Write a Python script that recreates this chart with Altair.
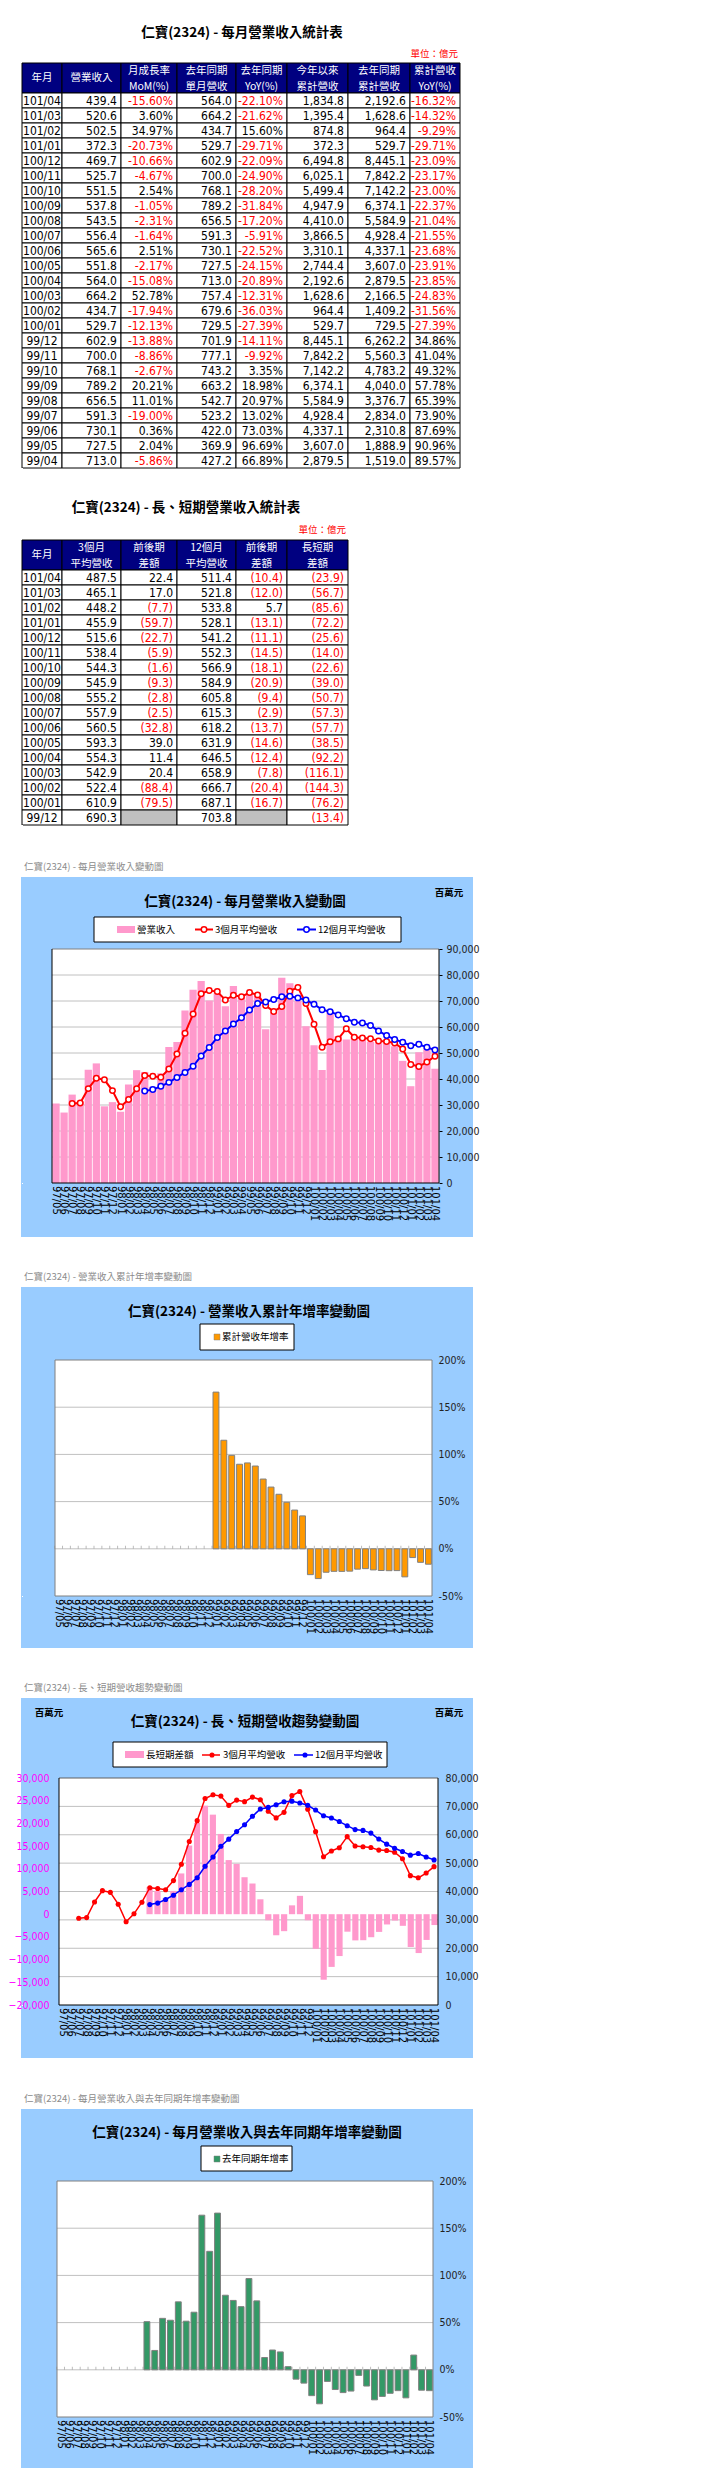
import altair as alt
import pandas as pd

# ================= TABLE 1 DATA (億元) =================
T1_MONTHS = ["101/04", "101/03", "101/02", "101/01", "100/12", "100/11", "100/10", "100/09",
             "100/08", "100/07", "100/06", "100/05", "100/04", "100/03", "100/02", "100/01",
             "99/12", "99/11", "99/10", "99/09", "99/08", "99/07", "99/06", "99/05", "99/04"]
T1_REV = [439.4, 520.6, 502.5, 372.3, 469.7, 525.7, 551.5, 537.8, 543.5, 556.4, 565.6, 551.8,
          564.0, 664.2, 434.7, 529.7, 602.9, 700.0, 768.1, 789.2, 656.5, 591.3, 730.1, 727.5, 713.0]
T1_MOM = [-15.60, 3.60, 34.97, -20.73, -10.66, -4.67, 2.54, -1.05, -2.31, -1.64, 2.51, -2.17,
          -15.08, 52.78, -17.94, -12.13, -13.88, -8.86, -2.67, 20.21, 11.01, -19.00, 0.36, 2.04, -5.86]
T1_PREV = [564.0, 664.2, 434.7, 529.7, 602.9, 700.0, 768.1, 789.2, 656.5, 591.3, 730.1, 727.5,
           713.0, 757.4, 679.6, 729.5, 701.9, 777.1, 743.2, 663.2, 542.7, 523.2, 422.0, 369.9, 427.2]
T1_YOY = [-22.10, -21.62, 15.60, -29.71, -22.09, -24.90, -28.20, -31.84, -17.20, -5.91, -22.52, -24.15,
          -20.89, -12.31, -36.03, -27.39, -14.11, -9.92, 3.35, 18.98, 20.97, 13.02, 73.03, 96.69, 66.89]
T1_CUM = [1834.8, 1395.4, 874.8, 372.3, 6494.8, 6025.1, 5499.4, 4947.9, 4410.0, 3866.5, 3310.1, 2744.4,
          2192.6, 1628.6, 964.4, 529.7, 8445.1, 7842.2, 7142.2, 6374.1, 5584.9, 4928.4, 4337.1, 3607.0, 2879.5]
T1_CUM_PREV = [2192.6, 1628.6, 964.4, 529.7, 8445.1, 7842.2, 7142.2, 6374.1, 5584.9, 4928.4, 4337.1, 3607.0,
               2879.5, 2166.5, 1409.2, 729.5, 6262.2, 5560.3, 4783.2, 4040.0, 3376.7, 2834.0, 2310.8, 1888.9, 1519.0]
T1_CUM_YOY = [-16.32, -14.32, -9.29, -29.71, -23.09, -23.17, -23.00, -22.37, -21.04, -21.55, -23.68, -23.91,
              -23.85, -24.83, -31.56, -27.39, 34.86, 41.04, 49.32, 57.78, 65.39, 73.90, 87.69, 90.96, 89.57]
T1_HEADERS = ["年月", "營業收入", "月成長率\nMoM(%)", "去年同期\n單月營收", "去年同期\nYoY(%)",
              "今年以來\n累計營收", "去年同期\n累計營收", "累計營收\nYoY(%)"]

# ================= TABLE 2 DATA (億元) =================
T2_MONTHS = ["101/04", "101/03", "101/02", "101/01", "100/12", "100/11", "100/10", "100/09",
             "100/08", "100/07", "100/06", "100/05", "100/04", "100/03", "100/02", "100/01", "99/12"]
T2_AVG3 = [487.5, 465.1, 448.2, 455.9, 515.6, 538.4, 544.3, 545.9, 555.2, 557.9, 560.5, 593.3,
           554.3, 542.9, 522.4, 610.9, 690.3]
T2_AVG3_DIFF = [22.4, 17.0, -7.7, -59.7, -22.7, -5.9, -1.6, -9.3, -2.8, -2.5, -32.8, 39.0,
                11.4, 20.4, -88.4, -79.5, None]
T2_AVG12 = [511.4, 521.8, 533.8, 528.1, 541.2, 552.3, 566.9, 584.9, 605.8, 615.3, 618.2, 631.9,
            646.5, 658.9, 666.7, 687.1, 703.8]
T2_AVG12_DIFF = [-10.4, -12.0, 5.7, -13.1, -11.1, -14.5, -18.1, -20.9, -9.4, -2.9, -13.7, -14.6,
                 -12.4, -7.8, -20.4, -16.7, None]
T2_GAP = [-23.9, -56.7, -85.6, -72.2, -25.6, -14.0, -22.6, -39.0, -50.7, -57.3, -57.7, -38.5,
          -92.2, -116.1, -144.3, -76.2, -13.4]
T2_HEADERS = ["年月", "3個月\n平均營收", "前後期\n差額", "12個月\n平均營收", "前後期\n差額", "長短期\n差額"]

# ================= CHART DATA (百萬元 / %) =================
MONTHS = ["97/05", "97/06", "97/07", "97/08", "97/09", "97/10", "97/11", "97/12",
          "98/01", "98/02", "98/03", "98/04", "98/05", "98/06", "98/07", "98/08", "98/09", "98/10", "98/11", "98/12",
          "99/01", "99/02", "99/03", "99/04", "99/05", "99/06", "99/07", "99/08", "99/09", "99/10", "99/11", "99/12",
          "100/01", "100/02", "100/03", "100/04", "100/05", "100/06", "100/07", "100/08", "100/09", "100/10", "100/11", "100/12",
          "101/01", "101/02", "101/03", "101/04"]
REVENUE = [30600, 27100, 34000, 31300, 43600, 46000, 29500, 31100, 27400, 37900,
           43400, 42720, 36990, 42200, 52320, 54270, 66320, 74320, 77710, 70190,
           72950, 67960, 75740, 71300, 72750, 73010, 59130, 65650, 78920, 76810,
           70000, 60290, 52970, 43470, 66420, 56400, 55180, 56560, 55640, 54350,
           53780, 55150, 52570, 46970, 37230, 50250, 52060, 43940]
AVG3 = [None, None, 30567, 30800, 36300, 40300, 39700, 35533, 29333, 32133,
        36233, 41340, 41037, 40637, 43837, 49597, 57637, 64970, 72783, 74073,
        73617, 70367, 72217, 71667, 73263, 72353, 68297, 65930, 67900, 73793,
        75243, 69030, 61090, 52240, 54290, 55430, 59330, 56050, 55790, 55520,
        54590, 54430, 53840, 51560, 45590, 44820, 46510, 48750]
AVG12 = [None, None, None, None, None, None, None, None, None, None, None,
         35385, 35918, 37176, 38703, 40617, 42510, 44870, 48888, 52145, 55941,
         58446, 61141, 63523, 66503, 69070, 69638, 70586, 71636, 71843, 71201,
         70380, 68710, 66670, 65890, 64650, 63190, 61820, 61530, 60580, 58490,
         56690, 55230, 54120, 52810, 53380, 52180, 51140]
GAP = [None, None, None, None, None, None, None, None, None, None, None,
       5955, 5119, 3461, 5134, 8980, 15127, 20100, 23895, 21928, 17676,
       11921, 11076, 8144, 6760, 3283, -1341, -4656, -3736, 1950, 4042,
       -1340, -7620, -14430, -11610, -9220, -3850, -5770, -5730, -5070, -3900,
       -2260, -1400, -2560, -7220, -8560, -5670, -2390]
CUM_YOY = [None] * 20 + [166, 115, 99, 89.57, 90.96, 87.69, 73.90, 65.39, 57.78, 49.32,
                         41.04, 34.86, -27.39, -31.56, -24.83, -23.85, -23.91, -23.68, -21.55, -21.04,
                         -22.37, -23.00, -23.17, -23.09, -29.71, -9.29, -14.32, -16.32]
MONTH_YOY = [None] * 11 + [51, 20.5, 54.5, 52.5, 72, 51.5, 61, 163.8, 125.5,
                           166, 79, 73.5, 66.89, 96.69, 73.03, 13.02, 20.97, 18.98, 3.35,
                           -9.92, -14.11, -27.39, -36.03, -12.31, -20.89, -24.15, -22.52, -5.91, -17.20,
                           -31.84, -28.20, -24.90, -22.09, -29.71, 15.60, -21.62, -22.10]

Y1_TICKS = [0, 10000, 20000, 30000, 40000, 50000, 60000, 70000, 80000, 90000]
Y3L_TICKS = [-20000, -15000, -10000, -5000, 0, 5000, 10000, 15000, 20000, 25000, 30000]
Y3R_TICKS = [0, 10000, 20000, 30000, 40000, 50000, 60000, 70000, 80000]
PCT_TICKS = [-50, 0, 50, 100, 150, 200]

# ================= STYLE =================
CJK = "Noto Sans CJK TC"
NARROW = "'Liberation Sans Narrow', 'DejaVu Sans Condensed', 'Liberation Sans', sans-serif"
LBLF = "DejaVu Sans"
PANEL = "#99CCFF"
PINK = "#FF99CC"
RED = "#FF0000"
BLUE = "#0000FF"
ORANGE = "#FF9900"
GREEN = "#339966"
GRIDC = "#C0C0C0"
NAVY = "#000080"
CAPC = "#8C8C8C"
ONE = pd.DataFrame({"k": [0]})
OX = 16  # page x of every sub-view's left edge
COMMA = "format(datum.value, ',')"


class Page:
    """Decoration helpers taking page coordinates for a sub-view whose origin is (OX, oy)."""

    def __init__(self, oy):
        self.oy = oy

    def X(self, x):
        return x - OX

    def Y(self, y):
        return y - self.oy

    def txt(self, s, x, y, size=9.5, color="black", weight="normal", align="left", font=CJK):
        return alt.Chart(ONE).mark_text(text=s, align=align, baseline="middle", fontSize=size,
                                        color=color, fontWeight=weight, font=font).encode(
            x=alt.value(self.X(x)), y=alt.value(self.Y(y)))

    def rect(self, x1, y1, x2, y2, **kw):
        return alt.Chart(ONE).mark_rect(**kw).encode(
            x=alt.value(self.X(x1)), x2=alt.value(self.X(x2)),
            y=alt.value(self.Y(y1)), y2=alt.value(self.Y(y2)))

    def seg(self, x1, y1, x2, y2, color, sw):
        return alt.Chart(ONE).mark_rule(color=color, strokeWidth=sw).encode(
            x=alt.value(self.X(x1)), x2=alt.value(self.X(x2)),
            y=alt.value(self.Y(y1)), y2=alt.value(self.Y(y2)))

    def dot(self, x, y, size, fill, stroke=None, sw=1.5):
        kw = dict(shape="circle", filled=True, fill=fill, size=size, opacity=1)
        if stroke:
            kw.update(stroke=stroke, strokeWidth=sw)
        return alt.Chart(ONE).mark_point(**kw).encode(x=alt.value(self.X(x)), y=alt.value(self.Y(y)))

    def edges(self, plot, top, right, bottom, left):
        pl, pt, pr, pb = plot
        return [self.seg(pl, pt, pr, pt, top, 1), self.seg(pr, pt, pr, pb, right, 1),
                self.seg(pl, pb, pr, pb, bottom, 1), self.seg(pl, pt, pl, pb, left, 1)]


def gap(top, bottom, panel=None, anchor=False):
    """Vertical spacer; optionally draws the blue chart panel that lies behind the next chart."""
    P = Page(top)
    x0 = -8 if anchor else 0
    layers = [alt.Chart(ONE).mark_rect(color="white").encode(
        x=alt.value(x0), x2=alt.value(x0 + 1), y=alt.value(0), y2=alt.value(1))]
    if panel:
        layers.append(P.rect(panel[0], panel[1], panel[2], panel[3], fill=PANEL))
    return alt.layer(*layers).properties(width=1, height=bottom - top)


# ================= TABLES =================
def table_chart(headers, edges, rows, title, oy, tpos, upos):
    P = Page(oy)
    W = edges[-1]
    NR = len(rows) + 2
    H = NR * 15
    cells, heads, tc, tr = [], [], [], []
    for c, h in enumerate(headers):
        cells.append(dict(x0=edges[c], x1=edges[c + 1], y0=0, y1=2, f=NAVY))
        heads.append(dict(tx=(edges[c] + edges[c + 1]) / 2, ty=0.55 if "\n" in h else 1.0, t=h))
    for i, row in enumerate(rows):
        for c, (t, col, fill) in enumerate(row):
            cells.append(dict(x0=edges[c], x1=edges[c + 1], y0=2 + i, y1=3 + i, f=fill))
            if c == 0:
                tc.append(dict(tx=(edges[0] + edges[1]) / 2, ty=2.5 + i, t=t, col=col))
            else:
                tr.append(dict(tx=edges[c + 1] - 4, ty=2.5 + i, t=t, col=col))
    xs = alt.Scale(domain=[0, W], nice=False, zero=False)
    ys = alt.Scale(domain=[0, NR], nice=False, zero=False, reverse=True)
    r = alt.Chart(pd.DataFrame(cells)).mark_rect(stroke="black", strokeWidth=1).encode(
        x=alt.X("x0:Q", scale=xs, axis=None), x2="x1:Q",
        y=alt.Y("y0:Q", scale=ys, axis=None), y2="y1:Q",
        fill=alt.Fill("f:N", scale=None))
    hd = alt.Chart(pd.DataFrame(heads)).mark_text(
        align="center", baseline="middle", lineBreak="\n", lineHeight=16, font=CJK,
        fontSize=10.5, color="white").encode(
        x=alt.X("tx:Q", scale=xs, axis=None), y=alt.Y("ty:Q", scale=ys, axis=None), text="t:N")
    c1 = alt.Chart(pd.DataFrame(tc)).mark_text(
        align="center", baseline="middle", font=NARROW, fontSize=12).encode(
        x=alt.X("tx:Q", scale=xs, axis=None), y=alt.Y("ty:Q", scale=ys, axis=None), text="t:N",
        color=alt.Color("col:N", scale=None))
    c2 = alt.Chart(pd.DataFrame(tr)).mark_text(
        align="right", baseline="middle", font=NARROW, fontSize=12).encode(
        x=alt.X("tx:Q", scale=xs, axis=None), y=alt.Y("ty:Q", scale=ys, axis=None), text="t:N",
        color=alt.Color("col:N", scale=None))
    t = P.txt(title, tpos[0], tpos[1], size=13.5, weight="bold", align="center")
    u = P.txt("單位：億元", upos[0], upos[1], size=9.5, color=RED, align="right")
    return alt.layer(r, hd, c1, c2, t, u).properties(width=W, height=H)


def num(v):
    return f"{v:,.1f}"


def pct(v):
    return f"{v:.2f}%"


def par(v):
    return f"({abs(v):.1f})" if v < 0 else f"{v:.1f}"


def neg(v):
    return RED if v < 0 else "black"


rows1 = []
for i in range(len(T1_MONTHS)):
    rows1.append([
        (T1_MONTHS[i], "black", "white"),
        (num(T1_REV[i]), "black", "white"),
        (pct(T1_MOM[i]), neg(T1_MOM[i]), "white"),
        (num(T1_PREV[i]), "black", "white"),
        (pct(T1_YOY[i]), neg(T1_YOY[i]), "white"),
        (num(T1_CUM[i]), "black", "white"),
        (num(T1_CUM_PREV[i]), "black", "white"),
        (pct(T1_CUM_YOY[i]), neg(T1_CUM_YOY[i]), "white"),
    ])

rows2 = []
for i in range(len(T2_MONTHS)):
    d3, d12 = T2_AVG3_DIFF[i], T2_AVG12_DIFF[i]
    rows2.append([
        (T2_MONTHS[i], "black", "white"),
        (num(T2_AVG3[i]), "black", "white"),
        (par(d3) if d3 is not None else "", neg(d3) if d3 is not None else "black",
         "white" if d3 is not None else "#C0C0C0"),
        (num(T2_AVG12[i]), "black", "white"),
        (par(d12) if d12 is not None else "", neg(d12) if d12 is not None else "black",
         "white" if d12 is not None else "#C0C0C0"),
        (par(T2_GAP[i]), neg(T2_GAP[i]), "white"),
    ])

EDGES1 = [0, 40, 99, 155, 214, 265, 326, 388, 438]
EDGES2 = [0, 40, 99, 155, 214, 265, 326]

T1 = table_chart(T1_HEADERS, EDGES1, rows1, "仁寶(2324) - 每月營業收入統計表", 63, (236, 33), (452, 54))
T2 = table_chart(T2_HEADERS, EDGES2, rows2, "仁寶(2324) - 長、短期營業收入統計表", 540, (180, 508), (340, 530))

# ================= CHARTS =================
df = pd.DataFrame({"m": MONTHS, "rev": REVENUE, "a3": AVG3, "a12": AVG12, "gap": GAP,
                   "cy": CUM_YOY, "my": MONTH_YOY})
SER_SCALE = alt.Scale(domain=["a3", "a12"], range=[RED, BLUE])


def band(plot, pi, po):
    pl, pt, pr, pb = plot
    return alt.Scale(domain=MONTHS, paddingInner=pi, paddingOuter=po, range=[pl - OX, pr - OX])


def plot_bg(P, plot):
    return P.rect(plot[0], plot[1], plot[2], plot[3], fill="white")


def month_labels(xs, H):
    """Vertical month category labels under the plot (read top to bottom)."""
    return alt.Chart(df).mark_text(angle=90, align="left", baseline="middle", font=LBLF,
                                   fontSize=10, color="black").encode(
        x=alt.X("m:N", scale=xs, axis=None), y=alt.value(H + 3), text="m:N")


# ---------- chart 1 ----------
PL1 = (46, 949, 433, 1183)
OUT1 = (15, 877, 467, 1237)
P1 = Page(PL1[1])
W1, H1 = PL1[2] - OX, PL1[3] - PL1[1]
xs1 = band(PL1, 0.1, 0.05)
ys1 = alt.Scale(domain=[0, 90000], nice=False, zero=False)
grid1 = alt.Chart(pd.DataFrame({"v": Y1_TICKS[1:-1]})).mark_rule(color=GRIDC).encode(
    y=alt.Y("v:Q", scale=ys1, axis=None), x=alt.value(P1.X(PL1[0])), x2=alt.value(P1.X(PL1[2])))
bars1 = alt.Chart(df).mark_bar(color=PINK).encode(
    x=alt.X("m:N", scale=xs1, axis=None),
    y=alt.Y("rev:Q", scale=ys1, axis=alt.Axis(
        orient="right", title=None, values=Y1_TICKS, labelExpr=COMMA, labelFont=NARROW, labelFontSize=10.5,
        labelColor="#222", tickSize=3, tickColor="black", domain=False, grid=False,
        labelPadding=4, labelFlush=False)))
lines1 = alt.Chart(df).transform_fold(["a3", "a12"], as_=["s", "v"]).mark_line(strokeWidth=2).encode(
    x=alt.X("m:N", scale=xs1, axis=None), y=alt.Y("v:Q", scale=ys1, axis=None),
    color=alt.Color("s:N", scale=SER_SCALE, legend=None))
pts1 = alt.Chart(df).transform_fold(["a3", "a12"], as_=["s", "v"]).mark_point(
    shape="circle", filled=True, fill="white", size=30, strokeWidth=1.5, opacity=1).encode(
    x=alt.X("m:N", scale=xs1, axis=None), y=alt.Y("v:Q", scale=ys1, axis=None),
    stroke=alt.Stroke("s:N", scale=SER_SCALE, legend=None))
LY1 = 929.5
C1 = alt.layer(
    plot_bg(P1, PL1),
    grid1, bars1, lines1, pts1,
    *P1.edges(PL1, "#808080", "black", "black", "black"),
    month_labels(xs1, H1),
    P1.txt("仁寶(2324) - 每月營業收入變動圖", 18, 867, size=9.5, color=CAPC),
    P1.txt("仁寶(2324) - 每月營業收入變動圖", 239, 902, size=13.5, weight="bold", align="center"),
    P1.txt("百萬元", 443, 893, size=9.5, weight="bold", align="center"),
    P1.rect(88, 917, 395, 942, fill="white", stroke="black", strokeWidth=1),
    P1.rect(111, 926, 129, 933, fill=PINK),
    P1.txt("營業收入", 131, LY1),
    P1.seg(189, LY1, 207, LY1, RED, 2), P1.dot(198, LY1, 30, "white", RED),
    P1.txt("3個月平均營收", 209, LY1),
    P1.seg(291, LY1, 310, LY1, BLUE, 2), P1.dot(300.5, LY1, 30, "white", BLUE),
    P1.txt("12個月平均營收", 312, LY1),
).resolve_scale(x="independent", y="independent").properties(width=W1, height=H1)


# ---------- percentage bar charts (2 & 4) ----------
def pct_chart(field, color, plot, cap, cap_xy, title, tpos, legtxt, leg, sq, ltxt_xy):
    P = Page(plot[1])
    W, H = plot[2] - OX, plot[3] - plot[1]
    pw = plot[2] - plot[0]
    pi, po = 0.25, 0.08
    xs = band(plot, pi, po)
    ys = alt.Scale(domain=[-50, 200], nice=False, zero=False)
    step = pw / (len(MONTHS) - pi + 2 * po)
    grid = alt.Chart(pd.DataFrame({"v": PCT_TICKS[1:-1]})).mark_rule(color=GRIDC).encode(
        y=alt.Y("v:Q", scale=ys, axis=None), x=alt.value(P.X(plot[0])), x2=alt.value(P.X(plot[2])))
    ticks = alt.Chart(df).transform_calculate(z="0").mark_tick(
        orient="vertical", size=3, thickness=1, color="#A0A0A0", xOffset=-step / 2, yOffset=-1.5).encode(
        x=alt.X("m:N", scale=xs, axis=None), y=alt.Y("z:Q", scale=ys, axis=None))
    bars = alt.Chart(df).mark_bar(color=color, stroke="#808080", strokeWidth=1).encode(
        x=alt.X("m:N", scale=xs, axis=None),
        y=alt.Y(f"{field}:Q", scale=ys, axis=alt.Axis(
            orient="right", title=None, values=PCT_TICKS, labelExpr="datum.value + '%'",
            labelFont=NARROW, labelFontSize=10.5, labelColor="#222", ticks=False, domain=False,
            grid=False, labelPadding=6, labelFlush=False)))
    return alt.layer(
        plot_bg(P, plot),
        grid, ticks, bars,
        *P.edges(plot, "#808080", "#808080", "#808080", "#808080"),
        month_labels(xs, H),
        P.txt(cap, cap_xy[0], cap_xy[1], size=9.5, color=CAPC),
        P.txt(title, tpos[0], tpos[1], size=13.5, weight="bold", align="center"),
        P.rect(leg[0], leg[1], leg[2], leg[3], fill="white", stroke="black", strokeWidth=1),
        P.rect(sq[0], sq[1], sq[2], sq[3], fill=color, stroke="#808080", strokeWidth=0.5),
        P.txt(legtxt, ltxt_xy[0], ltxt_xy[1]),
    ).resolve_scale(x="independent", y="independent").properties(width=W, height=H)


PL2 = (49, 1360, 426, 1596)
OUT2 = (15, 1287, 467, 1648)
C2 = pct_chart("cy", ORANGE, PL2,
               "仁寶(2324) -  營業收入累計年增率變動圖", (18, 1277),
               "仁寶(2324) -  營業收入累計年增率變動圖", (243, 1312),
               "累計營收年增率", (194, 1324, 288, 1350), (208, 1334, 214, 1340), (216, 1337))

PL4 = (51, 2181, 427, 2417)
OUT4 = (15, 2109, 467, 2468)
C4 = pct_chart("my", GREEN, PL4,
               "仁寶(2324) -  每月營業收入與去年同期年增率變動圖", (18, 2099),
               "仁寶(2324) -  每月營業收入與去年同期年增率變動圖", (241, 2133),
               "去年同期年增率", (195, 2146, 286, 2171), (208, 2156, 214, 2162), (216, 2158.5))

# ---------- chart 3 ----------
PL3 = (53, 1778, 432, 2005)
OUT3 = (15, 1698, 467, 2058)
P3 = Page(PL3[1])
W3, H3 = PL3[2] - OX, PL3[3] - PL3[1]
xs3 = band(PL3, 0.22, 0.05)
ys3L = alt.Scale(domain=[-20000, 30000], nice=False, zero=False)
ys3R = alt.Scale(domain=[0, 80000], nice=False, zero=False)
grid3 = alt.Chart(pd.DataFrame({"v": Y3R_TICKS[1:-1]})).mark_rule(color=GRIDC).encode(
    y=alt.Y("v:Q", scale=ys3R, axis=None), x=alt.value(P3.X(PL3[0])), x2=alt.value(P3.X(PL3[2])))
bars3 = alt.Chart(df).mark_bar(color=PINK).encode(
    x=alt.X("m:N", scale=xs3, axis=None),
    y=alt.Y("gap:Q", scale=ys3L, axis=alt.Axis(
        orient="left", offset=-(PL3[0] - OX), title=None, values=Y3L_TICKS, labelExpr=COMMA,
        labelFont=NARROW, labelFontSize=10.5, labelColor="#FF00FF", ticks=False, domain=False,
        grid=False, labelPadding=10, labelFlush=False)))
lines3 = alt.Chart(df).transform_fold(["a3", "a12"], as_=["s", "v"]).mark_line(strokeWidth=1.5).encode(
    x=alt.X("m:N", scale=xs3, axis=None),
    y=alt.Y("v:Q", scale=ys3R, axis=alt.Axis(
        orient="right", title=None, values=Y3R_TICKS, labelExpr=COMMA, labelFont=NARROW, labelFontSize=10.5,
        labelColor="#222", ticks=False, domain=False, grid=False, labelPadding=7,
        labelFlush=False)),
    color=alt.Color("s:N", scale=SER_SCALE, legend=None))
pts3 = alt.Chart(df).transform_fold(["a3", "a12"], as_=["s", "v"]).mark_circle(size=26, opacity=1).encode(
    x=alt.X("m:N", scale=xs3, axis=None), y=alt.Y("v:Q", scale=ys3R, axis=None),
    color=alt.Color("s:N", scale=SER_SCALE, legend=None))
LY3 = 1755
C3 = alt.layer(
    plot_bg(P3, PL3),
    grid3, bars3, lines3, pts3,
    *P3.edges(PL3, "#606060", "black", "black", "black"),
    month_labels(xs3, H3),
    P3.txt("仁寶(2324) -  長、短期營收趨勢變動圖", 18, 1688, size=9.5, color=CAPC),
    P3.txt("百萬元", 43, 1713, size=9.5, weight="bold", align="center"),
    P3.txt("百萬元", 443, 1713, size=9.5, weight="bold", align="center"),
    P3.txt("仁寶(2324) -  長、短期營收趨勢變動圖", 239, 1722, size=13.5, weight="bold", align="center"),
    P3.rect(107, 1742, 381, 1767, fill="white", stroke="black", strokeWidth=1),
    P3.rect(119, 1751, 138, 1758, fill=PINK),
    P3.txt("長短期差額", 140, LY3),
    P3.seg(196, LY3, 214, LY3, RED, 1.5), P3.dot(206, LY3, 26, RED),
    P3.txt("3個月平均營收", 217, LY3),
    P3.seg(288, LY3, 307, LY3, BLUE, 1.5), P3.dot(299, LY3, 26, BLUE),
    P3.txt("12個月平均營收", 309, LY3),
).resolve_scale(x="independent", y="independent").properties(width=W3, height=H3)

# ================= ASSEMBLY =================
chart = alt.vconcat(
    gap(8, 63, anchor=True),
    T1,
    gap(468, 540),
    T2,
    gap(825, PL1[1], OUT1),
    C1,
    gap(PL1[3], PL2[1], OUT2),
    C2,
    gap(PL2[3], PL3[1], OUT3),
    C3,
    gap(PL3[3], PL4[1], OUT4),
    C4,
    spacing=0, bounds="flush", padding=0,
).configure_view(stroke=None)

chart.save("out.html", embed_options={"renderer": "svg", "actions": False})
